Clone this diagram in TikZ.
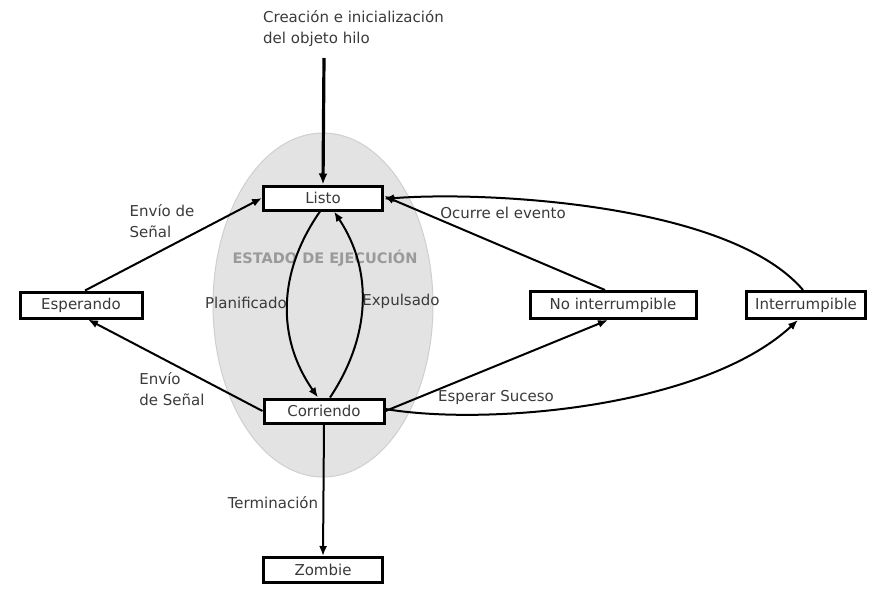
\documentclass[tikz,border=0pt]{standalone}
\usepackage{fontspec}
\setmainfont{DejaVu Sans}
\usetikzlibrary{arrows.meta,shapes.geometric}
\definecolor{txtgray}{HTML}{3A3A3A}
\definecolor{ellfill}{HTML}{E3E3E3}
\definecolor{elldraw}{HTML}{CFCFCF}
\definecolor{stategray}{HTML}{9A9A9A}
\begin{document}
\begin{tikzpicture}[x=1pt,y=-1pt,
  statebox/.style={draw=black,line width=3pt,fill=white,inner sep=0pt,
    minimum height=24pt,font=\fontsize{15}{18}\selectfont,text=txtgray},
  lbl/.style={font=\fontsize{15}{21}\selectfont,text=txtgray,inner sep=0pt},
  conn/.style={line width=2pt,-{Latex[length=10pt,width=8pt]}}
]
\useasboundingbox (0,0) rectangle (891,595);
% execution region
\fill[ellfill,draw=elldraw,line width=1pt] (323,305) ellipse [x radius=110pt, y radius=172pt];
\node[font=\bfseries\fontsize{14.5}{17}\selectfont,text=stategray,inner sep=0pt] (ejec) at (325,258) {ESTADO DE EJECUCIÓN};
% states
\node[statebox,minimum width=119pt] (listo) at (323,198) {Listo};
\node[statebox,minimum width=122pt,minimum height=26pt] (esp) at (81,305) {Esperando};
\node[statebox,minimum width=120pt] (corr) at (324,411) {Corriendo};
\node[statebox,minimum width=119pt,minimum height=25pt] (zomb) at (323,570) {Zombie};
\node[statebox,minimum width=166pt,minimum height=27pt] (noint) at (613,305) {No interrumpible};
\node[statebox,minimum width=119pt,minimum height=27pt] (inter) at (806,305) {Interrumpible};
% creation
\node[lbl,align=left,anchor=north west] (crea) at (263,10) {Creación e inicialización\\del objeto hilo};
\coordinate (creaend) at (324,58);
\draw[line width=3.2pt,-{Latex[length=11pt,width=9pt]}] (creaend) -- (listo.north);
% transitions
\draw[conn] ([xshift=-3pt]listo.south) .. controls +(-42,60) and +(-42,-60) .. ([xshift=-6pt]corr.north);
\draw[conn] ([xshift=6pt]corr.north) .. controls +(40,-60) and +(40,60) .. ([xshift=11pt]listo.south);
\draw[conn] ([xshift=4pt]esp.north) -- (listo.west);
\draw[conn] (corr.west) -- ([xshift=7pt]esp.south);
\draw[conn] ([xshift=-8pt]noint.north) -- ([yshift=2pt]listo.east);
\draw[conn] ([xshift=-3pt]inter.north) .. controls +(-75,-88) and +(95,-8) .. ([yshift=-1pt]listo.east);
\draw[conn] (corr.east) -- ([xshift=-5pt]noint.south);
\draw[conn] ([yshift=2pt]corr.east) .. controls +(100,17) and +(-95,88) .. ([xshift=-8pt]inter.south);
\draw[conn] (corr.south) -- (zomb.north);
% labels
\node[lbl,align=left] (l1) at (162,221) {Envío de\\Señal};
\node[lbl,align=left] (l2) at (172,389) {Envío\\de Señal};
\node[lbl] (l3) at (246,303) {Planificado};
\node[lbl] (l4) at (401,301) {Expulsado};
\node[lbl] (l5) at (503,213) {Ocurre el evento};
\node[lbl] (l6) at (496,397) {Esperar Suceso};
\node[lbl] (l7) at (273,503) {Terminación};
\end{tikzpicture}
\end{document}
